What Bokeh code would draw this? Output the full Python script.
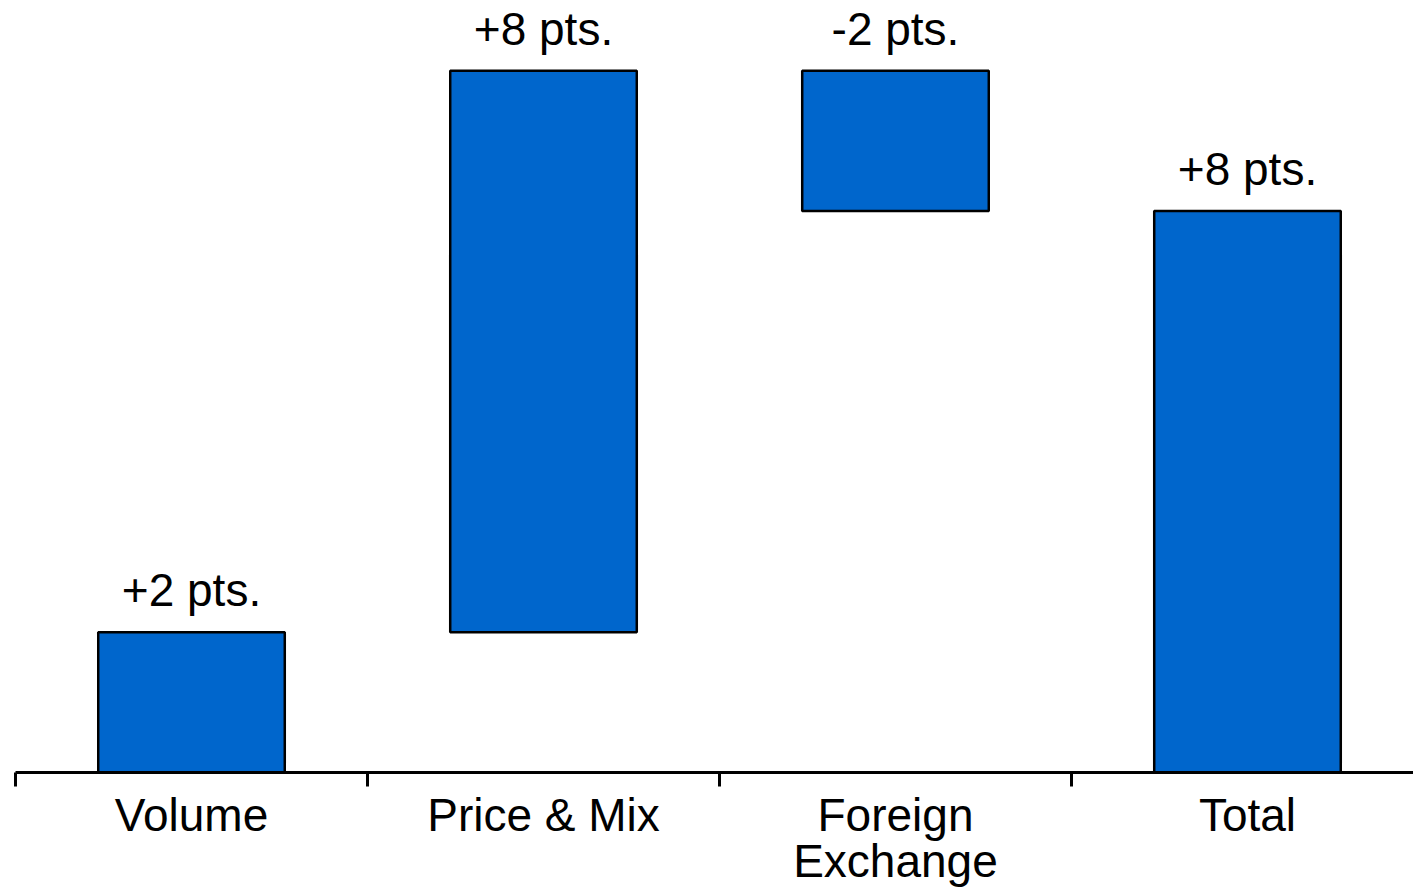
import numpy as np
from bokeh.plotting import figure
from bokeh.models import ColumnDataSource, FixedTicker, Range1d, LabelSet
from bokeh.core.properties import value
from bokeh.embed import file_html
from bokeh.resources import INLINE

# Waterfall of point changes
categories = ["Volume", "Price & Mix", "Foreign\nExchange", "Total"]
changes = [2, 8, -2]
unit = "pts."

# Running totals for the step bars, followed by the overall total bar
ends = np.cumsum(changes)
starts = ends - np.array(changes)
total = int(ends[-1])
bottoms = list(np.minimum(starts, ends)) + [0]
tops = list(np.maximum(starts, ends)) + [max(total, 0)]
values = list(changes) + [total]
centers = [i + 0.5 for i in range(len(categories))]

src = ColumnDataSource(dict(
    x=centers,
    bottom=bottoms,
    top=tops,
    label=[f"{v:+d} {unit}" for v in values],
))

FONT = "Liberation Sans"
BAR_BLUE = "#0066CC"

p = figure(
    width=1413, height=890,
    output_backend="svg", toolbar_location=None,
    x_range=Range1d(0, 3.9716), y_range=Range1d(0, 11.0),
    y_axis_location=None,
    min_border_left=15, min_border_right=0,
    min_border_top=0, min_border_bottom=117,
)
p.outline_line_color = None
p.grid.visible = False
p.background_fill_color = "white"
p.border_fill_color = "white"

p.vbar(x="x", bottom="bottom", top="top", width=0.53, source=src,
       fill_color=BAR_BLUE, line_color="black", line_width=2.5)

labels = LabelSet(x="x", y="top", text="label", source=src,
                  text_align="center", text_baseline="alphabetic",
                  y_offset=26, text_font=value(FONT),
                  text_font_size=value("46px"), text_color="black")
p.add_layout(labels)

ax = p.xaxis[0]
ax.ticker = FixedTicker(ticks=centers, minor_ticks=list(range(len(categories))))
ax.major_label_overrides = {c: name for c, name in zip(centers, categories)}
ax.axis_line_color = "black"
ax.axis_line_width = 3
ax.major_tick_line_color = None
ax.major_tick_out = 0
ax.major_tick_in = 0
ax.minor_tick_line_color = "black"
ax.minor_tick_line_width = 3
ax.minor_tick_out = 14
ax.minor_tick_in = 0
ax.major_label_text_font = FONT
ax.major_label_text_font_size = "46px"
ax.major_label_text_color = "black"
ax.major_label_text_line_height = 0.9
ax.major_label_standoff = 2

open("out.html", "w").write(file_html(p, INLINE))
